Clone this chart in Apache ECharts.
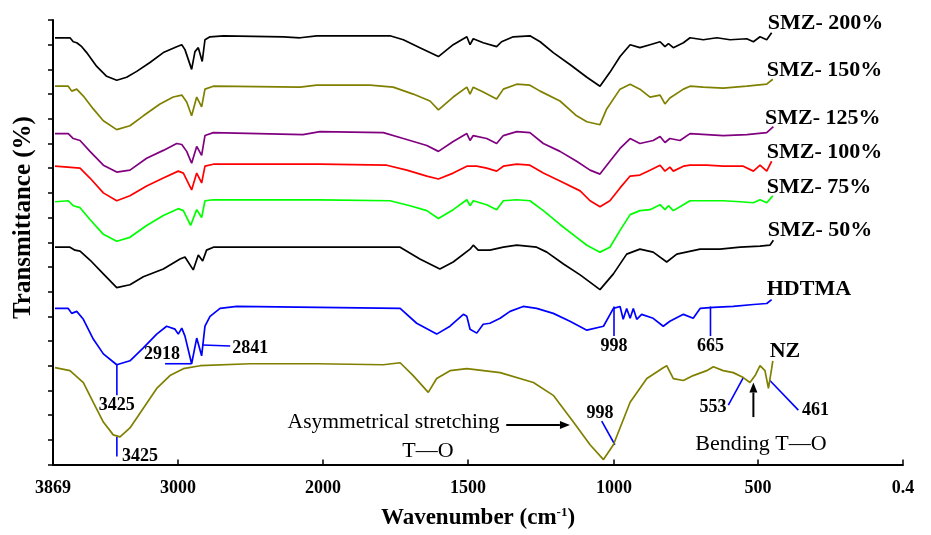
<!DOCTYPE html>
<html><head><meta charset="utf-8">
<script src="https://cdn.jsdelivr.net/npm/echarts@6/dist/echarts.min.js"></script>
<style>html,body{margin:0;padding:0;background:#fff}#c{width:931px;height:535px}</style>
</head><body><div id="c"></div><script>
// ---- DATA ----
const tickWavenumbers = [3869, 3000, 2000, 1500, 1000, 500, 0.4];
const tickLabels = ['3869', '3000', '2000', '1500', '1000', '500', '0.4'];
const seriesNames = ['SMZ- 200%', 'SMZ- 150%', 'SMZ- 125%', 'SMZ- 100%', 'SMZ- 75%', 'SMZ- 50%', 'HDTMA', 'NZ'];

const smz200 = [[3855,432],[3751,432],[3728,428],[3704,427],[3669,423],[3635,417],[3565,403],[3496,393],[3426,389],[3357,392],[3287,398],[3195,407],[3102,417],[3009,423],[2974,425],[2952,420],[2906,400],[2883,418],[2860,422],[2833,408],[2814,430],[2779,433],[2687,434],[2273,433],[2158,432],[2043,434],[1769,434],[1723,430],[1666,422],[1602,413],[1551,425],[1504,433],[1493,425],[1482,431],[1448,427],[1402,423],[1385,428],[1345,433],[1288,434],[1253,428],[1208,417],[1151,405],[1093,392],[1048,383],[1014,397],[979,413],[944,425],[910,422],[875,425],[840,428],[823,423],[811,426],[794,422],[759,427],[736,432],[690,430],[643,432],[597,430],[539,431],[516,428],[493,433],[470,430],[453,437]];
const smz150 = [[3855,383],[3763,383],[3739,378],[3704,380],[3658,373],[3589,360],[3519,348],[3426,339],[3334,343],[3241,353],[3125,365],[3033,372],[2974,374],[2940,367],[2906,353],[2871,372],[2837,362],[2814,380],[2756,383],[2158,382],[2043,384],[1838,384],[1758,382],[1689,375],[1631,368],[1602,359],[1551,372],[1504,382],[1493,375],[1482,382],[1448,377],[1402,370],[1379,380],[1333,385],[1288,384],[1253,378],[1185,368],[1128,353],[1093,347],[1048,344],[1025,360],[979,380],[944,385],[910,380],[875,372],[840,374],[823,365],[806,371],[759,380],[736,383],[690,382],[621,381],[539,383],[470,385],[449,390]];
const smz125 = [[3855,335],[3763,335],[3728,330],[3681,328],[3612,317],[3519,303],[3426,296],[3334,298],[3218,310],[3102,318],[3009,325],[2974,324],[2940,317],[2906,305],[2871,322],[2837,313],[2814,333],[2756,336],[2138,334],[2021,337],[1792,336],[1723,330],[1642,323],[1602,317],[1551,327],[1504,335],[1493,328],[1482,333],[1436,330],[1402,325],[1379,333],[1333,337],[1288,336],[1242,325],[1185,317],[1128,307],[1082,298],[1048,294],[1014,307],[979,320],[944,330],[910,325],[864,328],[840,332],[823,326],[806,330],[771,328],[736,335],[678,334],[621,333],[539,334],[470,336],[447,342]];
const smz100 = [[3855,302],[3681,300],[3612,290],[3519,275],[3426,267],[3334,272],[3218,282],[3102,290],[2998,297],[2963,295],[2906,278],[2871,295],[2837,285],[2814,302],[2756,304],[2021,304],[1780,303],[1711,298],[1642,292],[1602,289],[1551,295],[1504,302],[1470,302],[1436,300],[1402,297],[1379,302],[1333,304],[1288,303],[1242,295],[1185,287],[1116,277],[1082,267],[1048,261],[1014,267],[979,280],[944,292],[910,293],[875,298],[840,303],[823,297],[806,301],[794,297],[759,302],[736,303],[678,303],[621,302],[551,302],[516,297],[493,303],[470,297],[453,307]];
const smz75 = [[3855,266],[3763,267],[3728,262],[3681,260],[3612,248],[3519,233],[3426,226],[3334,230],[3218,242],[3102,252],[2998,259],[2963,257],[2913,242],[2871,258],[2837,250],[2814,267],[2756,268],[2021,268],[1769,267],[1700,262],[1642,257],[1602,249],[1551,258],[1504,268],[1493,262],[1482,267],[1436,263],[1402,258],[1379,267],[1333,268],[1288,267],[1242,257],[1185,243],[1128,230],[1093,222],[1048,215],[1014,220],[979,237],[944,253],[910,257],[875,258],[840,263],[823,258],[811,262],[794,257],[759,263],[736,267],[678,267],[621,267],[562,266],[516,265],[493,268],[470,265],[449,272]];
const smz50 = [[3855,220],[3751,220],[3716,217],[3681,216],[3612,207],[3519,193],[3426,179],[3334,182],[3241,190],[3102,198],[2986,208],[2952,210],[2895,197],[2860,212],[2830,206],[2803,217],[2756,220],[1734,220],[1666,208],[1597,198],[1551,205],[1493,218],[1482,222],[1465,217],[1425,217],[1379,220],[1333,222],[1265,220],[1230,215],[1173,203],[1116,192],[1048,177],[1002,193],[956,213],[910,218],[864,215],[817,205],[782,213],[701,218],[632,218],[562,220],[493,221],[459,222],[447,227]];
const hdtma = [[3855,158],[3763,158],[3739,153],[3704,155],[3658,147],[3589,127],[3519,112],[3426,101],[3334,105],[3241,118],[3148,132],[3079,140],[3021,137],[2998,132],[2974,138],[2952,130],[2906,102],[2871,128],[2837,110],[2814,140],[2779,150],[2710,158],[2595,160],[1734,158],[1677,143],[1608,132],[1562,140],[1516,152],[1504,150],[1493,137],[1470,133],[1448,142],[1425,143],[1390,148],[1356,155],[1311,160],[1265,158],[1208,153],[1151,145],[1093,136],[1036,140],[1002,158],[979,160],[968,147],[956,158],[944,148],[933,158],[921,147],[904,152],[864,148],[829,140],[806,145],[759,152],[725,148],[701,158],[655,159],[586,160],[516,162],[470,163],[453,167]];
const nz = [[3855,98],[3751,95],[3658,83],[3589,63],[3519,43],[3450,30],[3403,28],[3334,37],[3241,57],[3148,77],[3056,90],[2963,97],[2848,100],[2503,102],[2043,102],[1792,101],[1734,103],[1689,90],[1637,73],[1608,87],[1562,95],[1504,97],[1390,93],[1276,83],[1208,70],[1139,43],[1082,20],[1036,5],[1002,20],[944,63],[886,87],[829,98],[817,100],[794,87],[759,85],[725,90],[678,95],[655,99],[621,95],[586,93],[551,88],[528,83],[510,90],[493,100],[476,95],[464,77],[453,97],[449,105]];
const curves = [smz200, smz150, smz125, smz100, smz75, smz50, hdtma, nz];

// ---- STYLE / LAYOUT ----
const colors = ['#000000', '#808000', '#800080', '#ff0000', '#00ff00', '#000000', '#0000ff', '#808000'];
const tickSpacing = [125, 145, 145, 146, 144, 145]; // axis segment widths (px)
const tickPos = [0]; tickSpacing.forEach(s => tickPos.push(tickPos[tickPos.length - 1] + s));
const SERIF = '"Liberation Serif", "Times New Roman", serif';

function xPos(w) {
  for (let i = 0; i < tickWavenumbers.length - 1; i++) {
    const a = tickWavenumbers[i], b = tickWavenumbers[i + 1];
    if ((w <= a && w >= b) || i === tickWavenumbers.length - 2) {
      return tickPos[i] + (a - w) / (a - b) * (tickPos[i + 1] - tickPos[i]);
    }
  }
  return 0;
}

const chart = echarts.init(document.getElementById('c'), null, { renderer: 'canvas' });
chart.setOption({
  animation: false,
  backgroundColor: '#fff',
  grid: { left: 53, right: 28, top: 20, bottom: 65 },
  xAxis: {
    type: 'value', min: 0, max: tickPos[tickPos.length - 1],
    name: 'Wavenumber (cm{sup|-1})', nameLocation: 'middle', nameGap: 42,
    nameTextStyle: { fontFamily: SERIF, fontWeight: 'bold', fontSize: 23, color: '#000',
      rich: { sup: { fontFamily: SERIF, fontWeight: 'bold', fontSize: 13, color: '#000', verticalAlign: 'top', padding: [0, 0, 11, 0] } } },
    axisLine: { lineStyle: { color: '#000', width: 2 } },
    axisTick: { inside: true, length: 5, lineStyle: { color: '#000', width: 1.5 }, customValues: tickPos },
    axisLabel: { customValues: tickPos, margin: 15, fontFamily: SERIF, fontWeight: 'bold', fontSize: 18, color: '#000',
      formatter: v => { const i = tickPos.findIndex(p => Math.abs(p - v) < 0.5); return i >= 0 ? tickLabels[i] : ''; } },
    splitLine: { show: false }
  },
  yAxis: {
    type: 'value', min: 0, max: 450, interval: 25,
    axisLine: { show: true, lineStyle: { color: '#000', width: 2 } },
    axisTick: { show: true, length: 5, lineStyle: { color: '#000', width: 1.5 } },
    axisLabel: { show: false },
    splitLine: { show: false }
  },
  series: curves.map((c, i) => ({
    type: 'line', name: seriesNames[i], showSymbol: false, symbol: 'none',
    lineStyle: { color: colors[i], width: 1.7 },
    data: c.map(([w, v]) => [xPos(w), v])
  }))
});

// ---- ANNOTATIONS (wavenumber, value) ----
const P = (w, v) => chart.convertToPixel({ gridIndex: 0 }, [xPos(w), v]);
const g = [];
function text(str, w, v, opt) {
  const [x, y] = P(w, v);
  const o = Object.assign({ size: 18, bold: true, align: 'center', color: '#000' }, opt || {});
  g.push({ type: 'text', x: x, y: y, silent: true, style: {
    text: str, x: 0, y: 0, fill: o.color,
    font: (o.bold ? 'bold ' : '') + o.size + 'px ' + SERIF,
    align: o.align, verticalAlign: 'middle', textAlign: o.align, textVerticalAlign: 'middle' } });
}
function line(w1, v1, w2, v2, color) {
  const [x1, y1] = P(w1, v1), [x2, y2] = P(w2, v2);
  g.push({ type: 'line', silent: true, shape: { x1, y1, x2, y2 }, style: { stroke: color || '#0000ff', lineWidth: 1.6 } });
}
function arrow(w1, v1, w2, v2) {
  const [x1, y1] = P(w1, v1), [x2, y2] = P(w2, v2);
  const ang = Math.atan2(y2 - y1, x2 - x1), L = 10, W = 4;
  const bx = x2 - L * Math.cos(ang), by = y2 - L * Math.sin(ang);
  g.push({ type: 'line', silent: true, shape: { x1, y1, x2: bx, y2: by }, style: { stroke: '#000', lineWidth: 2 } });
  g.push({ type: 'polygon', silent: true, shape: { points: [[x2, y2], [bx + W * Math.sin(ang), by - W * Math.cos(ang)], [bx - W * Math.sin(ang), by + W * Math.cos(ang)]] }, style: { fill: '#000' } });
}
// y-axis title
const [, yMid] = P(3869, 250);
g.push({ type: 'text', x: 24, y: yMid, rotation: Math.PI / 2, silent: true, style: {
  text: 'Transmittance (%)', x: 0, y: 0, fill: '#000', font: 'bold 25px ' + SERIF,
  align: 'center', verticalAlign: 'middle', textAlign: 'center', textVerticalAlign: 'middle' } });
// curve labels
text('SMZ- 200%', 466, 447, { align: 'left', size: 22 });
text('SMZ- 150%', 470, 399, { align: 'left', size: 22 });
text('SMZ- 125%', 476, 350, { align: 'left', size: 22 });
text('SMZ- 100%', 470, 316, { align: 'left', size: 22 });
text('SMZ- 75%', 470, 281, { align: 'left', size: 22 });
text('SMZ- 50%', 466, 237, { align: 'left', size: 22 });
text('HDTMA', 470, 177, { align: 'left', size: 22 });
text('NZ', 407, 115, { size: 22 });
// HDTMA peaks
line(3425, 101, 3425, 70); text('3425', 3425, 60);
line(3090, 102, 2906, 102); text('2918', 2986, 112, { align: 'right' });
line(2830, 121, 2640, 120); text('2841', 2626, 118, { align: 'left' });
line(1000, 160, 1000, 130); text('998', 1000, 120);
line(665, 160, 665, 130); text('665', 665, 120);
// NZ peaks
line(3425, 28, 3425, 8); text('3425', 3389, 8, { align: 'left' });
line(1042, 44, 997, 20); text('998', 1048, 52);
line(603, 60, 551, 88); text('553', 656, 58);
line(459, 85, 361, 55); text('461', 302, 55);
text('Asymmetrical stretching', 2244, 43, { align: 'left', bold: false, size: 21.5 });
arrow(1369, 40, 1151, 40);
text('T\u2014O', 1638, 13, { bold: false, size: 22 });
arrow(516, 48, 516, 83);
text('Bending T\u2014O', 718, 21, { align: 'left', bold: false, size: 22 });
chart.setOption({ graphic: g });
</script></body></html>
